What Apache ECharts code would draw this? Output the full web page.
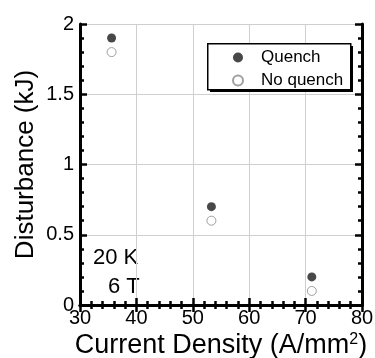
<!DOCTYPE html>
<html><head><meta charset="utf-8">
<script src="https://cdn.jsdelivr.net/npm/echarts@6/dist/echarts.min.js"></script>
<style>html,body{margin:0;padding:0;background:#fff}#c{width:375px;height:358px}</style>
</head><body><div id="c"></div>
<script>
const currentDensity = [35.6, 53.3, 71.1];
const quench = [1.9, 0.7, 0.2];
const noQuench = [1.8, 0.6, 0.1];
const xTicks = [30, 40, 50, 60, 70, 80];
const yTicks = [0, 0.5, 1, 1.5, 2];

const font = 'Liberation Sans, Arial, sans-serif';
const chart = echarts.init(document.getElementById('c'));
const tickCommon = {
  axisLine: { show: true, lineStyle: { color: '#000', width: 3 } },
  axisTick: { show: true, inside: true, length: 7, lineStyle: { color: '#000', width: 2.5 } },
  minorTick: { show: true, splitNumber: 5, length: 4, lineStyle: { color: '#000', width: 2.5 } }
};
chart.setOption({
  animation: false,
  grid: { left: 80, right: 13, top: 24, bottom: 53, containLabel: false, outerBoundsMode: 'none' },
  xAxis: [
    Object.assign({
      type: 'value', min: xTicks[0], max: xTicks[xTicks.length - 1], interval: 10,
      name: 'Current Density (A/mm{s|2})', nameLocation: 'middle', nameGap: 27,
      nameMoveOverlap: false,
      nameTextStyle: { fontFamily: font, fontSize: 27, color: '#000',
        rich: { s: { fontSize: 16, verticalAlign: 'top', padding: [0, 0, 12, 0], fontFamily: font, color: '#000' } } },
      axisLabel: { fontFamily: font, fontSize: 20, color: '#000', margin: 3 },
      splitLine: { show: true, lineStyle: { color: '#cfcfcf', width: 1 } }
    }, tickCommon),
    Object.assign({
      type: 'value', position: 'top', min: xTicks[0], max: xTicks[xTicks.length - 1], interval: 10,
      axisLabel: { show: false }, splitLine: { show: false }
    }, tickCommon)
  ],
  yAxis: [
    Object.assign({
      type: 'value', min: yTicks[0], max: yTicks[yTicks.length - 1], interval: 0.5,
      name: 'Disturbance (kJ)', nameLocation: 'middle', nameGap: 41,
      nameMoveOverlap: false,
      nameTextStyle: { fontFamily: font, fontSize: 26, color: '#000' },
      axisLabel: { fontFamily: font, fontSize: 20, color: '#000', margin: 6 },
      splitLine: { show: true, lineStyle: { color: '#cfcfcf', width: 1 } }
    }, tickCommon),
    Object.assign({
      type: 'value', position: 'right', min: yTicks[0], max: yTicks[yTicks.length - 1], interval: 0.5,
      axisLabel: { show: false }, splitLine: { show: false }
    }, tickCommon)
  ],
  legend: {
    orient: 'vertical', left: 232, top: 49, z: 10,
    padding: 0, itemGap: 6, itemWidth: 10, itemHeight: 10,
    textStyle: { fontFamily: font, fontSize: 17, color: '#000', padding: [0, 0, 0, 13] },
    data: ['Quench', 'No quench']
  },
  graphic: [
    { type: 'rect', left: 210, top: 46, z: 5, shape: { width: 143, height: 46 }, style: { fill: '#000' } },
    { type: 'rect', left: 207, top: 43, z: 6, shape: { width: 143, height: 46 }, style: { fill: '#fff', stroke: '#000', lineWidth: 1.5 } },
    { type: 'text', left: 93, top: 247, style: { text: '20 K', fontFamily: font, fontSize: 22, fill: '#000' } },
    { type: 'text', left: 108, top: 276, style: { text: '6 T', fontFamily: font, fontSize: 22, fill: '#000' } }
  ],
  series: [
    { name: 'Quench', type: 'scatter', symbol: 'circle', symbolSize: 9,
      itemStyle: { color: '#1a1a1a' },
      data: currentDensity.map((x, i) => [x, quench[i]]) },
    { name: 'No quench', type: 'scatter', symbol: 'circle', symbolSize: 9,
      itemStyle: { color: '#fff', borderColor: '#888', borderWidth: 1 },
      data: currentDensity.map((x, i) => [x, noQuench[i]]) }
  ]
});
</script></body></html>
